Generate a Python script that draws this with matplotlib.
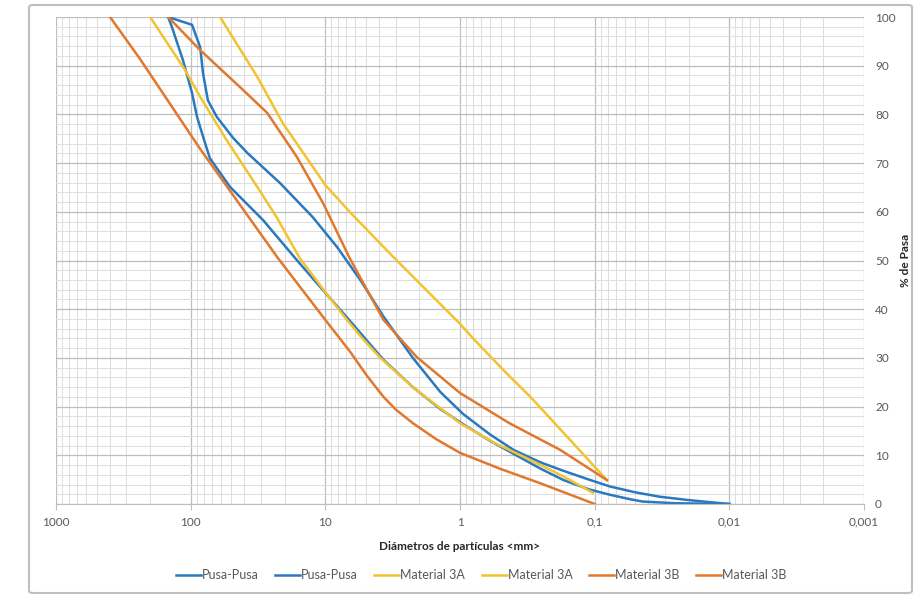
import numpy as np
import matplotlib.pyplot as plt
from matplotlib.patches import FancyBboxPatch
from matplotlib.ticker import LogLocator, MultipleLocator, FixedLocator, NullFormatter

plt.rcParams['font.family'] = ['Lato', 'DejaVu Sans']

# Pusa-Pusa (curva superior)
pusa1_d = [147, 97.7, 85, 81, 74.5, 64, 48.5, 38, 21.7, 12.4, 8.2, 5.5, 3.7, 2.24, 1.4, 0.95, 0.6, 0.40, 0.25, 0.17, 0.11, 0.077, 0.05, 0.033, 0.02, 0.01]
pusa1_p = [100, 98.4, 93.8, 88.5, 82.9, 79.5, 75.2, 72.1, 65.9, 58.9, 52.8, 46.0, 38.5, 30.0, 23.0, 18.5, 14.3, 11.1, 8.5, 6.8, 5.0, 3.6, 2.4, 1.5, 0.8, 0]
# Pusa-Pusa (curva inferior)
pusa2_d = [147, 138, 114, 97.7, 89.7, 80, 72, 51, 29, 16.3, 10.4, 6.9, 3.7, 2.24, 1.4, 0.95, 0.6, 0.40, 0.25, 0.17, 0.11, 0.077, 0.055, 0.044, 0.025, 0.01]
pusa2_p = [100, 98, 91.1, 84.4, 79.5, 75.0, 71.0, 65.1, 58.3, 50.1, 43.9, 38.3, 29.6, 24.0, 19.5, 16.4, 13.0, 10.3, 7.2, 4.9, 3.0, 1.9, 1.0, 0.5, 0.15, 0]
# Material 3A
m3a1_d = [200, 110, 85, 54, 32, 23, 15.5, 10, 7.0, 5.3, 3.9, 2.2, 1.0, 0.55, 0.32, 0.18, 0.103]
m3a1_p = [100, 89.1, 83.6, 74.7, 65.1, 58.9, 50.5, 43.5, 38.0, 34.0, 30.0, 23.8, 16.6, 12.5, 9.4, 6.0, 2.3]
m3a2_d = [60.5, 32, 20.7, 10, 6.6, 3.2, 1.0, 0.8, 0.45, 0.3, 0.16, 0.081]
m3a2_p = [100, 87.7, 78.2, 65.5, 60.0, 51.0, 37.0, 34.0, 26.8, 22.0, 13.8, 4.9]
# Material 3B
m3b1_d = [397, 238, 85, 22.5, 10, 6.6, 4.9, 3.7, 3.0, 2.24, 1.5, 1.0, 0.5, 0.25, 0.1]
m3b1_p = [100, 91.4, 72.9, 50.5, 37.8, 31.4, 26.3, 22.0, 19.4, 16.6, 13.3, 10.5, 7.2, 4.2, 0]
m3b2_d = [147, 85, 43, 27, 16.3, 10.4, 6.6, 3.7, 2.1, 1.0, 0.43, 0.18, 0.081]
m3b2_p = [100, 93.2, 85.6, 80.3, 71.3, 61.8, 50.5, 37.8, 30.2, 22.8, 16.6, 11.1, 4.9]

xticks = [1000, 100, 10, 1, 0.1, 0.01, 0.001]
xlabels = ['1000', '100', '10', '1', '0,1', '0,01', '0,001']

azul = '#2A79BF'
amarillo = '#F2C330'
naranja = '#E0782E'

fig = plt.figure(figsize=(9.22, 5.97), dpi=100)
ax = fig.add_axes([56/922, 1-504/597, (864-56)/922, (504-17)/597])

# marco exterior
marco = FancyBboxPatch((29/922, 4/597), (912-29)/922, (592-4)/597,
                       boxstyle='round,pad=0,rounding_size=0.004', transform=fig.transFigure,
                       facecolor='none', edgecolor='#BFBFBF', linewidth=1.5, zorder=0)
fig.patches.append(marco)

lw = 1.8
ax.plot(pusa1_d, pusa1_p, color=azul, lw=lw, label='Pusa-Pusa')
ax.plot(pusa2_d, pusa2_p, color=azul, lw=lw, label='Pusa-Pusa')
ax.plot(m3a1_d, m3a1_p, color=amarillo, lw=lw, label='Material 3A')
ax.plot(m3a2_d, m3a2_p, color=amarillo, lw=lw, label='Material 3A')
ax.plot(m3b1_d, m3b1_p, color=naranja, lw=lw, label='Material 3B')
ax.plot(m3b2_d, m3b2_p, color=naranja, lw=lw, label='Material 3B')

ax.set_xscale('log')
ax.set_xlim(1000, 0.001)
ax.set_ylim(0, 100)
ax.xaxis.set_major_locator(FixedLocator(xticks))
ax.set_xticklabels(xlabels)
ax.xaxis.set_minor_locator(LogLocator(base=10, subs=np.arange(2, 10), numticks=20))
ax.xaxis.set_minor_formatter(NullFormatter())
ax.yaxis.set_major_locator(MultipleLocator(10))
ax.yaxis.set_minor_locator(MultipleLocator(2))
ax.yaxis.tick_right()
ax.yaxis.set_label_position('right')

ax.grid(True, which='major', color='#BEBEBE', lw=0.9)
ax.grid(True, which='minor', color='#DDDDDD', lw=0.7)
ax.set_axisbelow(True)
for s in ax.spines.values():
    s.set_visible(False)
ax.spines['bottom'].set_visible(True)
ax.spines['bottom'].set_color('#BEBEBE')
ax.tick_params(which='both', length=0, colors='#595959', labelsize=8.5)
ax.tick_params(axis='x', which='major', length=4, color='#BEBEBE', pad=5)
ax.tick_params(axis='y', pad=8)

ax.set_xlabel('Diámetros de partículas <mm>', fontsize=8.5, fontweight='bold', color='#262626', labelpad=10)
ax.set_ylabel('% de Pasa', fontsize=8.5, fontweight='bold', color='#262626', labelpad=3)

fig.legend(loc='center', bbox_to_anchor=(481/922, 1-575/597), ncol=6, frameon=False,
           fontsize=9, handlelength=2.0, handletextpad=0.1, columnspacing=1.3,
           labelcolor='#595959')

fig.savefig('out.png', dpi=100)
